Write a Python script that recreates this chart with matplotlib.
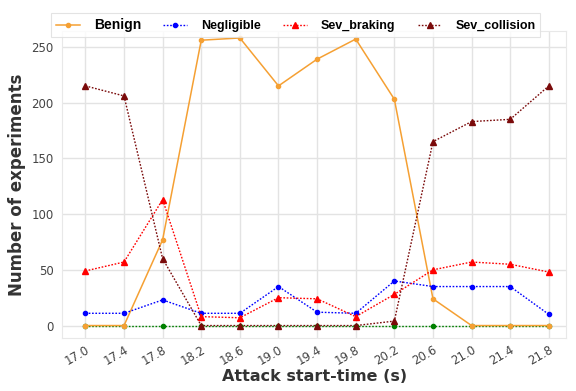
import matplotlib
matplotlib.use("Agg")
import matplotlib.pyplot as plt
import numpy as np

start_times = [17.0, 17.4, 17.8, 18.2, 18.6, 19.0, 19.4, 19.8, 20.2, 20.6, 21.0, 21.4, 21.8]
tick_labels = ["17.0", "17.4", "17.8", "18.2", "18.6", "19.0", "19.4", "19.8",
               "20.2", "20.6", "21.0", "21.4", "21.8"]

benign = [0, 0, 77, 256, 258, 215, 239, 257, 203, 24, 0, 0, 0]
negligible = [11, 11, 23, 11, 11, 35, 12, 11, 40, 35, 35, 35, 10]
sev_braking = [49, 57, 113, 8, 7, 25, 24, 8, 28, 50, 57, 55, 48]
sev_collision = [215, 206, 60, 0, 0, 0, 0, 0, 4, 165, 183, 185, 215]
other = [0, 0, 0, 0, 0, 0, 0, 0, 0, 0, 0, 0, 0]

fig = plt.figure(figsize=(5.76, 3.91), dpi=100)
ax = fig.add_axes([0.108, 0.136, 0.875, 0.784])

ax.set_facecolor("white")
ax.grid(True, color="#e3e3e3", linewidth=1.0)
ax.set_axisbelow(True)
for s in ax.spines.values():
    s.set_color("#e8e8e8")
    s.set_linewidth(0.8)

dots = (0, (1.2, 1.2))
ax.plot(start_times, other, linestyle=dots, color="green", marker="o",
        markersize=3, linewidth=1.0, label="_nolegend_")
l1, = ax.plot(start_times, benign, linestyle="-", color="#f5a033", marker="o",
              markersize=3, linewidth=1.1, label="Benign")
l2, = ax.plot(start_times, negligible, linestyle=dots, color="blue", marker="o",
              markersize=3, linewidth=1.0, label="Negligible")
l3, = ax.plot(start_times, sev_braking, linestyle=dots, color="red", marker="^",
              markersize=4.5, linewidth=1.0, label="Sev_braking")
l4, = ax.plot(start_times, sev_collision, linestyle=dots, color="#7a0a0a", marker="^",
              markersize=4.5, linewidth=1.0, label="Sev_collision")

ax.set_xlim(16.76, 21.98)
ax.set_ylim(-11, 264)
ax.set_xticks(start_times)
ax.set_xticklabels(tick_labels, rotation=30, ha="right", rotation_mode="anchor")
ax.set_yticks([0, 50, 100, 150, 200, 250])
ax.tick_params(axis="both", length=0, labelsize=8.5, colors="#444444", pad=6)
ax.tick_params(axis="x", pad=4)

ax.set_xlabel("Attack start-time (s)", fontsize=11.5, fontweight="bold",
              color="#333333", labelpad=1)
ax.set_ylabel("Number of experiments", fontsize=12, fontweight="bold",
              color="#333333", labelpad=4)

leg = fig.legend(handles=[l1, l2, l3, l4], loc="upper left",
                 bbox_to_anchor=(0.078, 0.982), ncol=4, frameon=True,
                 handlelength=1.9, columnspacing=1.8, handletextpad=1.1,
                 borderpad=0.4, fancybox=False,
                 prop={"family": "Liberation Sans", "weight": "bold", "size": 9})
leg.get_frame().set_edgecolor("#dddddd")
leg.get_frame().set_linewidth(0.8)
leg.get_texts()[0].set_fontsize(10)

fig.savefig("out.png", dpi=100)
